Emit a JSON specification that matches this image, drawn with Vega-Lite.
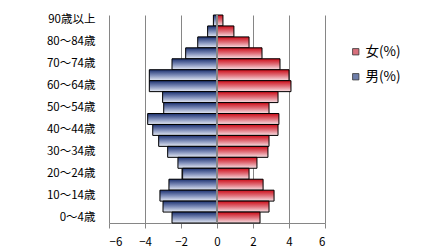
{
  "$schema": "https://vega.github.io/schema/vega-lite/v6.json",
  "autosize": {"type": "none"},
  "padding": {"left": 109, "top": 15, "right": 108, "bottom": 29},
  "width": 216,
  "height": 208,
  "background": "#ffffff",
  "config": {
    "view": {"stroke": null},
    "font": "Noto Sans CJK JP"
  },
  "data": {
    "values": [
      {"age": "90歳以上", "sex": "男(%)", "v": -0.2}, {"age": "90歳以上", "sex": "女(%)", "v": 0.33},
      {"age": "85～89歳", "sex": "男(%)", "v": -0.52}, {"age": "85～89歳", "sex": "女(%)", "v": 0.94},
      {"age": "80～84歳", "sex": "男(%)", "v": -1.07}, {"age": "80～84歳", "sex": "女(%)", "v": 1.78},
      {"age": "75～79歳", "sex": "男(%)", "v": -1.74}, {"age": "75～79歳", "sex": "女(%)", "v": 2.5},
      {"age": "70～74歳", "sex": "男(%)", "v": -2.5}, {"age": "70～74歳", "sex": "女(%)", "v": 3.5},
      {"age": "65～69歳", "sex": "男(%)", "v": -3.76}, {"age": "65～69歳", "sex": "女(%)", "v": 4.0},
      {"age": "60～64歳", "sex": "男(%)", "v": -3.76}, {"age": "60～64歳", "sex": "女(%)", "v": 4.11},
      {"age": "55～59歳", "sex": "男(%)", "v": -3.02}, {"age": "55～59歳", "sex": "女(%)", "v": 3.39},
      {"age": "50～54歳", "sex": "男(%)", "v": -2.96}, {"age": "50～54歳", "sex": "女(%)", "v": 2.89},
      {"age": "45～49歳", "sex": "男(%)", "v": -3.85}, {"age": "45～49歳", "sex": "女(%)", "v": 3.44},
      {"age": "40～44歳", "sex": "男(%)", "v": -3.57}, {"age": "40～44歳", "sex": "女(%)", "v": 3.39},
      {"age": "35～39歳", "sex": "男(%)", "v": -3.24}, {"age": "35～39歳", "sex": "女(%)", "v": 2.89},
      {"age": "30～34歳", "sex": "男(%)", "v": -2.74}, {"age": "30～34歳", "sex": "女(%)", "v": 2.83},
      {"age": "25～29歳", "sex": "男(%)", "v": -2.17}, {"age": "25～29歳", "sex": "女(%)", "v": 2.22},
      {"age": "20～24歳", "sex": "男(%)", "v": -1.91}, {"age": "20～24歳", "sex": "女(%)", "v": 1.78},
      {"age": "15～19歳", "sex": "男(%)", "v": -2.67}, {"age": "15～19歳", "sex": "女(%)", "v": 2.56},
      {"age": "10～14歳", "sex": "男(%)", "v": -3.17}, {"age": "10～14歳", "sex": "女(%)", "v": 3.17},
      {"age": "5～9歳", "sex": "男(%)", "v": -3.0}, {"age": "5～9歳", "sex": "女(%)", "v": 2.89},
      {"age": "0～4歳", "sex": "男(%)", "v": -2.5}, {"age": "0～4歳", "sex": "女(%)", "v": 2.39}
    ]
  },
  "encoding": {
    "y": {
      "field": "age", "type": "nominal",
      "sort": ["90歳以上","85～89歳","80～84歳","75～79歳","70～74歳","65～69歳","60～64歳","55～59歳","50～54歳","45～49歳","40～44歳","35～39歳","30～34歳","25～29歳","20～24歳","15～19歳","10～14歳","5～9歳","0～4歳"],
      "scale": {"paddingInner": 0, "paddingOuter": 0},
      "axis": {
        "title": null, "domain": false, "ticks": false, "grid": false,
        "values": ["90歳以上","80～84歳","70～74歳","60～64歳","50～54歳","40～44歳","30～34歳","20～24歳","10～14歳","0～4歳"],
        "labelPadding": 14, "labelFontSize": 11.5, "labelColor": "#000000", "labelFont": "Noto Sans CJK JP"
      }
    },
    "x": {
      "field": "v", "type": "quantitative",
      "scale": {"domain": [-6, 6], "nice": false, "zero": false},
      "axis": {
        "title": null, "values": [-6, -4, -2, 0, 2, 4, 6],
        "grid": true, "gridColor": "#868686", "gridOpacity": 1, "gridWidth": 1,
        "domainColor": "#868686", "domainWidth": 1,
        "tickColor": "#868686", "tickSize": 5, "tickWidth": 1,
        "labelPadding": 8, "labelFontSize": 11.5, "labelColor": "#000000", "labelFont": "Noto Sans CJK JP"
      }
    }
  },
  "layer": [
    {
      "mark": {"type": "bar"},
      "encoding": {
        "color": {
          "field": "sex", "type": "nominal",
          "scale": {"domain": ["女(%)", "男(%)"], "range": ["#d8707c", "#6e7eaa"]},
          "legend": {
            "title": null, "orient": "none", "legendX": 240, "legendY": 30,
            "symbolType": "square", "symbolSize": 40, "symbolStrokeColor": "#333333", "symbolStrokeWidth": 0.8,
            "labelFontSize": 13.5, "labelColor": "#000000", "labelFont": "Noto Sans CJK JP",
            "rowPadding": 10, "labelOffset": 3
          }
        }
      }
    },
    {
      "mark": {"type": "bar", "stroke": "#000000", "strokeWidth": 1},
      "encoding": {
        "fill": {
          "condition": {
            "test": "datum.sex === '男(%)'",
            "value": {"gradient": "linear", "x1": 0, "y1": 0, "x2": 0, "y2": 1,
              "stops": [{"offset": 0, "color": "#1c3170"}, {"offset": 0.5, "color": "#7d8cb8"}, {"offset": 1, "color": "#e6ebf5"}]}
          },
          "value": {"gradient": "linear", "x1": 0, "y1": 0, "x2": 0, "y2": 1,
            "stops": [{"offset": 0, "color": "#cc0c18"}, {"offset": 0.5, "color": "#e0707a"}, {"offset": 1, "color": "#f8e2e6"}]}
        }
      }
    },
    {
      "mark": {"type": "rule", "color": "#868686", "strokeWidth": 1},
      "encoding": {"x": {"datum": 0, "type": "quantitative"}, "y": {"value": 0}, "y2": {"value": 208}}
    }
  ]
}
